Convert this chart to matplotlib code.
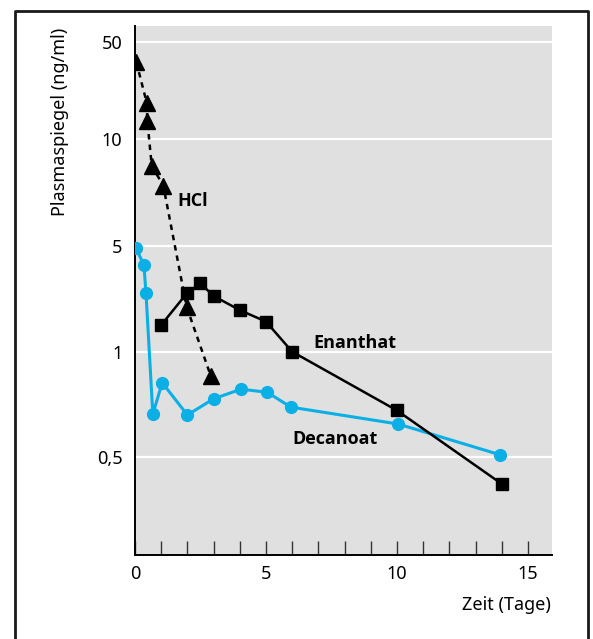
import numpy as np
import matplotlib
matplotlib.use("Agg")
import matplotlib.pyplot as plt
from matplotlib.lines import Line2D
from matplotlib import font_manager

plt.rcParams['font.family'] = ['Noto Sans', 'DejaVu Sans']

# data (time in days, plasma level in ng/ml)
hcl_t = [0.05, 0.45, 0.47, 0.64, 1.08, 1.97, 2.9]
hcl_c = [35.8, 18.2, 13.6, 8.4, 7.4, 1.98, 0.85]

enanthat_t = [1.0, 2.0, 2.5, 3.0, 4.0, 5.0, 6.0, 10.0, 14.0]
enanthat_c = [1.50, 2.45, 2.82, 2.33, 1.88, 1.58, 1.0, 0.68, 0.42]

decanoat_t = [0.03, 0.34, 0.42, 0.68, 1.04, 2.0, 3.0, 4.05, 5.05, 5.95, 10.05, 13.95]
decanoat_c = [4.85, 3.73, 2.43, 0.664, 0.816, 0.66, 0.734, 0.782, 0.766, 0.695, 0.622, 0.508]

y_ticks = [0.5, 1, 5, 10, 50]
y_ticklabels = ['0,5', '1', '5', '10', '50']
x_ticklabels = ['0', '5', '10', '15']

# the printed axis is not a true log scale: gridlines are nearly evenly spaced
knot_vals = np.log10([0.25, 0.5, 1, 5, 10, 50, 100])
knot_pos = np.array([-7.9, 97.7, 203.3, 309.3, 415.7, 513.3, 555.3])


def fwd(v):
    v = np.clip(np.asarray(v, dtype=float), 1e-6, None)
    return np.interp(np.log10(v), knot_vals, knot_pos)


def inv(p):
    return 10 ** np.interp(np.asarray(p, dtype=float), knot_pos, knot_vals)


# pick a family that really has a bold face for the curve labels
bold_family = 'DejaVu Sans'
for fam in ['Open Sans', 'Lato', 'Roboto', 'Liberation Sans']:
    try:
        path = font_manager.findfont(font_manager.FontProperties(family=fam, weight='bold'),
                                     fallback_to_default=False)
        if 'bold' in path.lower():
            bold_family = fam
            break
    except ValueError:
        pass

W, H = 593, 639
fig = plt.figure(figsize=(W / 100, H / 100), dpi=100)
ax = fig.add_axes([135 / W, (H - 555) / H, (552 - 135) / W, (555 - 26) / H])
ax.set_facecolor('#e0e0e0')

ax.set_yscale('function', functions=(fwd, inv))
ax.set_ylim(inv(0), inv(529))
ax.set_xlim(0, 15.92)

blue = '#0aafe6'
ax.plot(decanoat_t, decanoat_c, '-o', color=blue, lw=2.2, ms=8.5, zorder=3)
ax.plot(enanthat_t, enanthat_c, '-s', color='black', lw=1.8, ms=8, zorder=4)
ax.plot(hcl_t, hcl_c, '^', color='black', ls=(0, (2.2, 2.0)), lw=1.8, ms=12, zorder=5)

lab = dict(fontsize=13, fontweight='bold', family=bold_family)
ax.text(1.6, 6.7, 'HCl', va='center', **lab)
ax.text(6.8, 1.0, 'Enanthat', va='bottom', **lab)
ax.text(6.0, 0.6, 'Decanoat', va='top', **lab)

ax.set_yticks(y_ticks)
ax.set_yticklabels(y_ticklabels)
ax.yaxis.set_minor_locator(plt.NullLocator())
ax.tick_params(axis='y', length=0, pad=9, labelsize=13)
ax.grid(axis='y', color='white', lw=1.6)
ax.set_axisbelow(True)

ax.set_xticks(range(1, 16), minor=True)
ax.set_xticks([0, 5, 10, 15])
ax.set_xticklabels(x_ticklabels)
ax.tick_params(axis='x', which='both', direction='in', length=10, width=1.0,
               color='#333333', pad=7, labelsize=13)

for s in ['top', 'right']:
    ax.spines[s].set_visible(False)
for s in ['left', 'bottom']:
    ax.spines[s].set_linewidth(1.4)

fig.text(60 / W, 1 - 122 / H, 'Plasmaspiegel (ng/ml)', rotation=90,
         ha='center', va='center', fontsize=13)
fig.text(551 / W, 1 - 605 / H, 'Zeit (Tage)', ha='right', va='center', fontsize=13)

# outer frame, open at the bottom
frame_x = np.array([14.5, 14.5, 587.5, 587.5]) / W
frame_y = 1 - np.array([H + 5, 11, 11, H + 5]) / H
fig.add_artist(Line2D(frame_x, frame_y, transform=fig.transFigure,
                      color='#1a1a1a', lw=2.0, clip_on=False))

fig.savefig('out.png', dpi=100)
